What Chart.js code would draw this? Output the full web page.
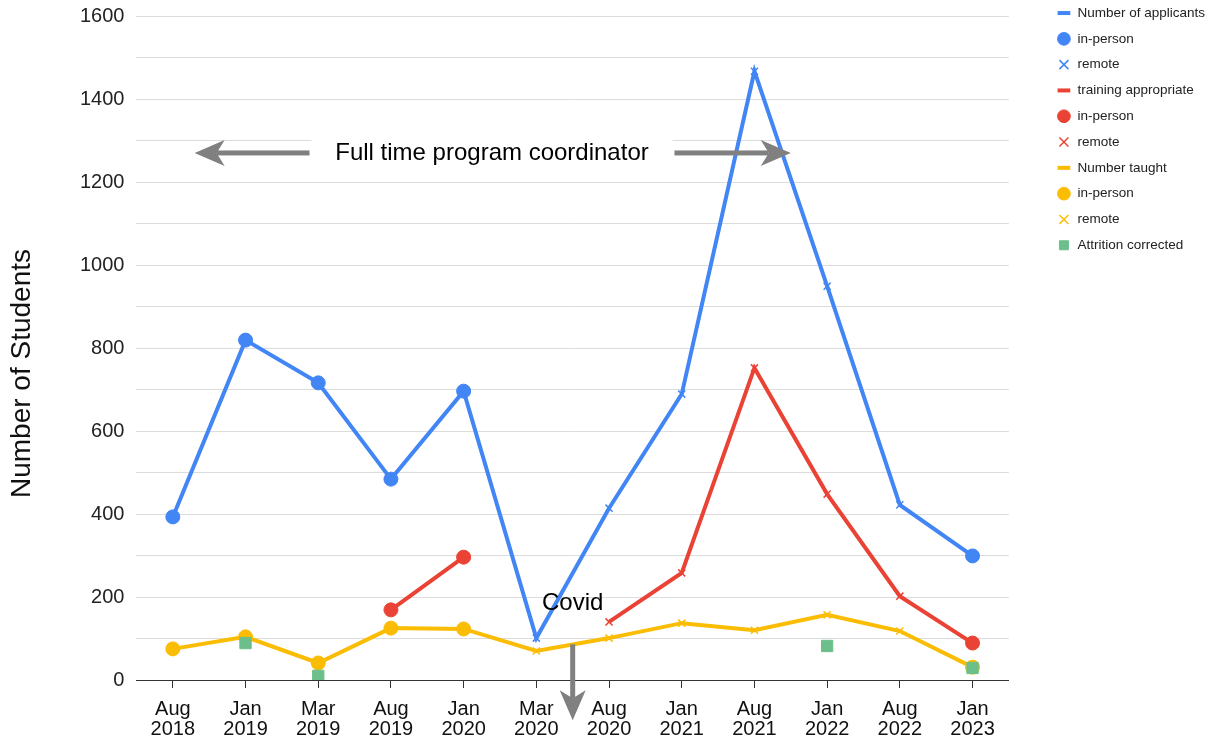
<!DOCTYPE html>
<html>
<head>
<meta charset="utf-8">
<script src="https://cdn.jsdelivr.net/npm/chart.js@4.4.0/dist/chart.umd.min.js"></script>
<style>
  html, body { margin: 0; padding: 0; background: #fff; }
</style>
</head>
<body>
<canvas id="chart" width="1209" height="739"></canvas>
<script>
// categories (two-line tick labels)
const labels = [
    ['Aug', '2018'], ['Jan', '2019'], ['Mar', '2019'], ['Aug', '2019'],
    ['Jan', '2020'], ['Mar', '2020'], ['Aug', '2020'], ['Jan', '2021'],
    ['Aug', '2021'], ['Jan', '2022'], ['Aug', '2022'], ['Jan', '2023']
];
// how each session was held
const delivery = ['in-person', 'in-person', 'in-person', 'in-person', 'in-person', 'remote',
    'remote', 'remote', 'remote', 'remote', 'remote', 'in-person'];

const applicants = [393, 819, 716, 484, 696, 101, 414, 689, 1467, 949, 422, 299];
const trainingAppropriate = [null, null, null, 169, 296, null, 140, 258, 752, 448, 202, 89];
const numberTaught = [75, 104, 41, 125, 123, 70, 101, 137, 120, 157, 118, 31];
const attritionCorrected = [null, 89, 10, null, null, null, null, null, null, 82, null, 29];

const yTicks = [0, 200, 400, 600, 800, 1000, 1200, 1400, 1600];

const BLUE = '#4285f4';
const RED = '#ea4335';
const YELLOW = '#fbbc04';
const GREEN = '#6cbf8a';
const FONT = 'Arial, "Liberation Sans", sans-serif';

// keep only the values of one delivery mode
function only(values, mode) {
    return values.map((v, i) => delivery[i] === mode ? v : null);
}

function lineSet(label, data, color, order) {
    return {
        label: label, data: data, borderColor: color, backgroundColor: color,
        borderWidth: 4, pointRadius: 0, pointHoverRadius: 0, pointStyle: 'line',
        spanGaps: false, order: order
    };
}

function pointSet(label, data, color, style, radius, order) {
    return {
        label: label, data: data, showLine: false, pointStyle: style,
        borderColor: color, backgroundColor: color,
        pointRadius: radius, pointHoverRadius: radius,
        borderWidth: style === 'crossRot' ? 1.5 : 1, order: order
    };
}

function arrow(ctx, x1, y1, x2, y2) {
    const ang = Math.atan2(y2 - y1, x2 - x1);
    const head = 30, half = 13, shaft = 5;
    const len = Math.hypot(x2 - x1, y2 - y1);
    ctx.save();
    ctx.translate(x1, y1);
    ctx.rotate(ang);
    ctx.fillStyle = '#808080';
    ctx.fillRect(0, -shaft / 2, len - head + 8, shaft);
    ctx.beginPath();
    ctx.moveTo(len, 0);
    ctx.lineTo(len - head, -half);
    ctx.lineTo(len - head + 8, 0);
    ctx.lineTo(len - head, half);
    ctx.closePath();
    ctx.fill();
    ctx.restore();
}

// text and arrows laid on top of the chart
const notes = {
    id: 'notes',
    afterLayout(chart) {
        // put the legend where the original has it
        const lg = chart.legend;
        lg.left += 6; lg.right += 6;
        lg.top -= 22; lg.bottom -= 22;
    },
    afterDatasetsDraw(chart) {
        const ctx = chart.ctx;
        const x = chart.scales.x, y = chart.scales.y;
        const yRow = y.getPixelForValue(1270);

        const tailL = x.getPixelForValue(1.88), tipL = x.getPixelForValue(0.3);
        const tailR = x.getPixelForValue(6.9), tipR = x.getPixelForValue(8.5);
        ctx.save();
        ctx.fillStyle = '#fff';
        ctx.fillRect(tailL + 2, yRow - 14, tailR - tailL - 4, 28);
        ctx.fillStyle = '#000';
        ctx.font = '24px ' + FONT;
        ctx.textAlign = 'center';
        ctx.textBaseline = 'middle';
        ctx.fillText('Full time program coordinator', (tailL + tailR) / 2, yRow);
        arrow(ctx, tailL, yRow, tipL, yRow);
        arrow(ctx, tailR, yRow, tipR, yRow);

        const cx = x.getPixelForValue(5.5);
        ctx.fillStyle = '#000';
        ctx.fillText('Covid', cx, y.getPixelForValue(184));
        arrow(ctx, cx, y.getPixelForValue(86), cx, y.getPixelForValue(-97));

        // y axis title, centred on the whole picture like the original
        ctx.translate(22, chart.height / 2 + 4);
        ctx.rotate(-Math.PI / 2);
        ctx.font = '28px ' + FONT;
        ctx.fillStyle = '#111';
        ctx.fillText('Number of Students', 0, 0);
        ctx.restore();
    }
};

new Chart(document.getElementById('chart'), {
    type: 'line',
    data: {
        labels: labels,
        datasets: [
            lineSet('Number of applicants', applicants, BLUE, 12),
            pointSet('in-person', only(applicants, 'in-person'), BLUE, 'circle', 7, 5),
            pointSet('remote', only(applicants, 'remote'), BLUE, 'crossRot', 5, 5),
            lineSet('training appropriate', trainingAppropriate, RED, 11),
            pointSet('in-person', only(trainingAppropriate, 'in-person'), RED, 'circle', 7, 4),
            pointSet('remote', only(trainingAppropriate, 'remote'), RED, 'crossRot', 5, 4),
            lineSet('Number taught', numberTaught, YELLOW, 10),
            pointSet('in-person', only(numberTaught, 'in-person'), YELLOW, 'circle', 7, 3),
            pointSet('remote', only(numberTaught, 'remote'), YELLOW, 'crossRot', 5, 3),
            pointSet('Attrition corrected', attritionCorrected, GREEN, 'rect', 8, 2)
        ]
    },
    options: {
        responsive: false,
        animation: false,
        events: [],
        layout: { padding: { top: 16, left: 68, right: 0, bottom: 0 } },
        plugins: {
            tooltip: { enabled: false },
            legend: {
                position: 'right',
                align: 'start',
                labels: {
                    usePointStyle: true,
                    boxHeight: 9,
                    padding: 12.3,
                    color: '#222',
                    font: { family: FONT, size: 13.5 },
                    sort: (a, b) => a.datasetIndex - b.datasetIndex
                }
            }
        },
        scales: {
            x: {
                offset: true,
                grid: {
                    display: true, drawOnChartArea: false, offset: false,
                    color: '#333', tickLength: 8
                },
                border: { display: true, color: '#333', width: 1 },
                ticks: {
                    color: '#111', padding: 11, maxRotation: 0, autoSkip: false,
                    font: { family: FONT, size: 20, lineHeight: 1.0 }
                },
                afterFit: s => { s.height = 59; }
            },
            y: {
                min: 0,
                max: 1600,
                border: { display: false },
                grid: { color: '#dcdcdc', drawTicks: false },
                ticks: {
                    stepSize: 100, padding: 12, color: '#222',
                    font: { family: FONT, size: 20 },
                    callback: v => yTicks.includes(v) ? v : ''
                },
                afterFit: s => { s.paddingTop = 0; }
            },
            // empty box that keeps the legend away from the plot
            gap: {
                type: 'linear', position: 'right', display: true,
                grid: { display: false }, border: { display: false },
                ticks: { display: false },
                afterFit: s => { s.width = 30; s.paddingTop = 0; }
            }
        }
    },
    plugins: [notes]
});
</script>
</body>
</html>
